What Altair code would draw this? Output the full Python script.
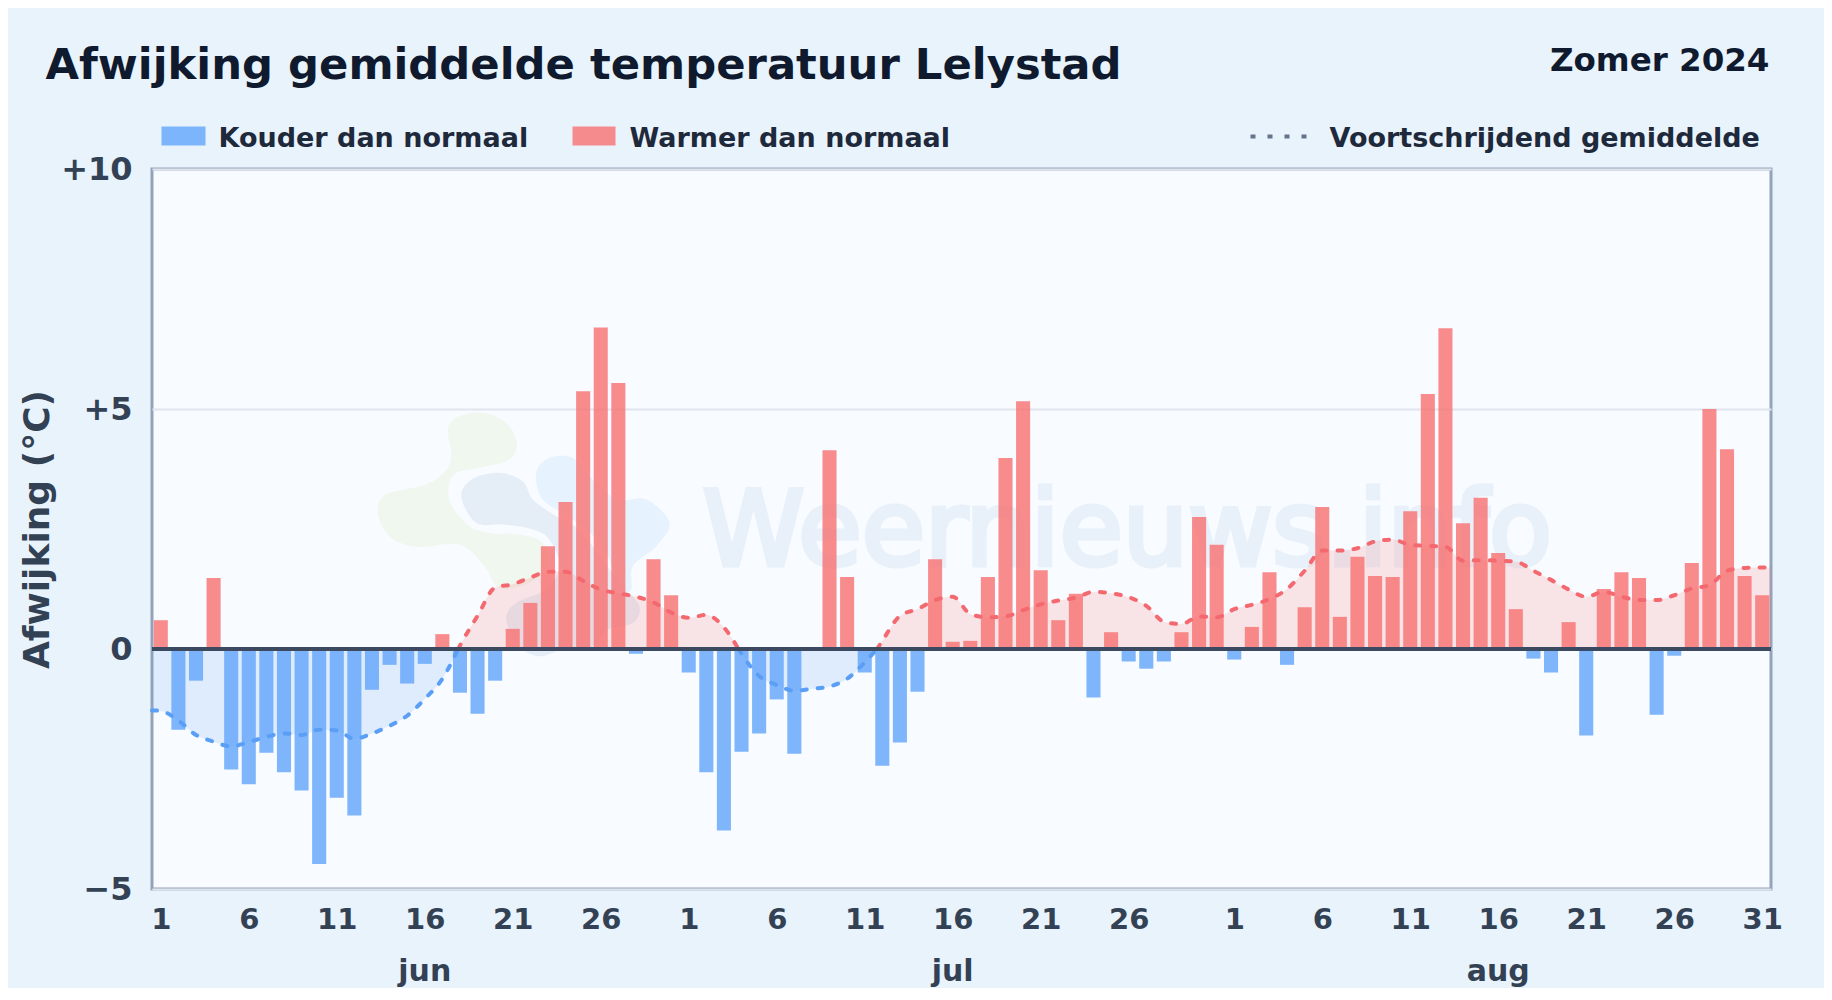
import altair as alt
import pandas as pd

# Daily anomaly, 1 June .. 31 August 2024
jun_values = [0.60,-1.68,-0.66,1.48,-2.51,-2.82,-2.16,-2.57,-2.95,-4.48,-3.10,-3.47,-0.85,-0.33,-0.72,-0.31,0.31,-0.91,-1.35,-0.66,0.42,0.96,2.14,3.06,5.37,6.70,5.54,-0.10,1.87,1.12]
jul_values = [-0.49,-2.57,-3.78,-2.14,-1.76,-1.05,-2.18,0,4.14,1.50,-0.49,-2.43,-1.95,-0.89,1.87,0.15,0.17,1.50,3.98,5.16,1.64,0.60,1.15,-1.01,0.35,-0.26,-0.41,-0.26,0.35,2.75,2.17]
aug_values = [-0.22,0.46,1.60,-0.33,0.87,2.96,0.67,1.92,1.52,1.50,2.87,5.31,6.68,2.62,3.15,2.00,0.83,-0.20,-0.49,0.56,-1.80,1.25,1.60,1.48,-1.37,-0.14,1.79,5.00,4.16,1.52,1.12]

# Moving average, read at each day; first and last are at the plot edges
avg_start = -1.28
avg_jun = [-1.29,-1.49,-1.79,-1.93,-2.03,-1.94,-1.83,-1.76,-1.79,-1.68,-1.70,-1.87,-1.76,-1.60,-1.39,-1.04,-0.62,0.07,0.69,1.28,1.35,1.49,1.61,1.61,1.42,1.24,1.16,1.09,0.97,0.76]
avg_jul = [0.65,0.71,0.45,-0.10,-0.56,-0.75,-0.87,-0.83,-0.78,-0.62,-0.28,0.17,0.69,0.83,1.02,1.09,0.73,0.66,0.68,0.81,0.93,1.01,1.07,1.19,1.16,1.08,0.90,0.57,0.52,0.68,0.66]
avg_aug = [0.83,0.92,1.04,1.25,1.63,2.05,2.05,2.10,2.24,2.28,2.17,2.15,2.13,1.84,1.85,1.84,1.82,1.63,1.44,1.24,1.09,1.19,1.09,1.02,1.02,1.12,1.26,1.33,1.63,1.69,1.70]
avg_end = 1.70
zero_crossings = [16.9, 32.83, 40.7]

tick_days = [0,5,10,15,20,25,30,35,40,45,50,55,61,66,71,76,81,86,91]
tick_labels = ["1","6","11","16","21","26","1","6","11","16","21","26","1","6","11","16","21","26","31"]
month_days = [15,45,76]
month_labels = ["jun","jul","aug"]
y_ticks = [-5,0,5,10]

BG = "#e8f3fc"
PANEL = "#f8fbff"
BLUE = "#60a5fa"
RED = "#f87171"
FONT = "DejaVu Sans"

values = jun_values + jul_values + aug_values
assert len(values) == 92
bars = pd.DataFrame({
    "start": [i - 0.4 for i in range(92)],
    "end": [i + 0.4 for i in range(92)],
    "value": values,
    "zero": 0.0,
    "sign": ["warm" if v >= 0 else "cold" for v in values],
})

avg_all = [avg_start] + avg_jun + avg_jul + avg_aug + [avg_end]
avg_x = [-0.5] + list(range(92)) + [91.5]
assert len(avg_all) == len(avg_x)
edges = [-0.5] + zero_crossings + [91.5]
rows = []
for s in range(len(edges) - 1):
    a, b = edges[s], edges[s + 1]
    sign = "cold" if s % 2 == 0 else "warm"
    if s > 0:
        rows.append((a, 0.0, s, sign))
    for d, v in zip(avg_x, avg_all):
        if a <= d <= b:
            rows.append((d, v, s, sign))
    if s < len(edges) - 2:
        rows.append((b, 0.0, s, sign))
avg = pd.DataFrame(rows, columns=["day", "value", "seg", "sign"])
avg["zero"] = 0.0

x_scale = alt.Scale(domain=[-0.5, 91.5], nice=False, zero=False)
y_scale = alt.Scale(domain=[-5, 10], nice=False)
color_scale = alt.Scale(domain=["cold", "warm"], range=[BLUE, RED])
line_scale = alt.Scale(domain=["cold", "warm"], range=["#5a9ff5", "#f4696f"])

label_map = ",".join(f"'{d}':'{l}'" for d, l in zip(tick_days, tick_labels))
x_axis = alt.Axis(values=tick_days, labelExpr="{" + label_map + "}[datum.value]", title=None,
                  grid=False, ticks=False, domain=False, labelFont=FONT, labelFontWeight="bold",
                  labelFontSize=29, labelColor="#334155", labelPadding=16, labelOverlap=False, labelFlush=False)
y_axis = alt.Axis(values=y_ticks, labelExpr="datum.value > 0 ? '+' + datum.value : datum.value < 0 ? '\u2212' + abs(datum.value) : '0'",
                  title="Afwijking (\u00b0C)", titleFont=FONT, titleFontWeight="bold", titleFontSize=36,
                  titleColor="#334155", titleX=-96, titlePadding=0,
                  grid=True, gridColor="#dfe6ee", gridWidth=2, ticks=False, domain=False,
                  labelFont=FONT, labelFontWeight="bold", labelFontSize=32, labelColor="#334155", labelPadding=20)


def X(field):
    return alt.X(field, scale=x_scale, axis=x_axis)


def Y(field):
    return alt.Y(field, scale=y_scale, axis=y_axis)


def smooth(points):
    n = len(points)
    d = f"M{points[0][0]:.1f},{points[0][1]:.1f}"
    for i in range(n):
        p0, p1, p2, p3 = points[i - 1], points[i], points[(i + 1) % n], points[(i + 2) % n]
        c1 = (p1[0] + (p2[0] - p0[0]) / 6, p1[1] + (p2[1] - p0[1]) / 6)
        c2 = (p2[0] - (p3[0] - p1[0]) / 6, p2[1] - (p3[1] - p1[1]) / 6)
        d += f"C{c1[0]:.1f},{c1[1]:.1f},{c2[0]:.1f},{c2[1]:.1f},{p2[0]:.1f},{p2[1]:.1f}"
    return d + "Z"


def blob(zoom_pts, color, opacity):
    pts = [(p[0] / 3, p[1] / 3) for p in zoom_pts]
    return alt.Chart(pd.DataFrame({"a": [0]})).mark_point(
        shape=smooth(pts), size=4, filled=True, fill=color, opacity=opacity, strokeWidth=0
    ).encode(x=alt.value(360 - 152.5), y=alt.value(390 - 169.5))


green = [(265,120),(295,82),(370,70),(440,100),(472,160),(450,210),(360,235),(290,250),(268,290),(275,345),(330,410),(400,432),(480,435),(550,460),(565,530),(510,580),(420,595),(375,530),(300,465),(170,472),(90,440),(55,370),(80,315),(200,285),(262,240),(275,190)]
greyblue = [(305,320),(340,268),(420,250),(490,275),(520,330),(590,380),(660,420),(720,500),(790,590),(840,650),(820,700),(745,720),(700,770),(610,780),(540,800),(480,770),(440,690),(470,640),(560,600),(600,530),(570,450),(520,420),(430,405),(350,400)]
lightblue = [(530,250),(570,205),(640,205),(690,260),(770,330),(860,330),(930,400),(890,470),(820,530),(815,600),(780,590),(730,470),(640,390),(550,330)]

watermark = (
    blob(green, "#eef6e8", 0.75)
    + blob(lightblue, "#e3f1fd", 0.9)
    + blob(greyblue, "#e4edf7", 0.95)
    + alt.Chart(pd.DataFrame({"t": ["Weernieuws.info"]})).mark_text(
        font=FONT, fontSize=103, fontWeight="normal", align="left", baseline="alphabetic",
        color="#e8f1f9", stroke="#e8f1f9", strokeWidth=5
    ).encode(text="t:N", x=alt.value(703 - 152.5), y=alt.value(565 - 169.5))
)

base_grid = alt.Chart(pd.DataFrame({"v": y_ticks})).mark_rule(opacity=0).encode(
    x=X("x0:Q"),
    y=Y("v:Q"),
).transform_calculate(x0="0")

area = alt.Chart(avg).mark_area(interpolate="monotone", opacity=0.17).encode(
    x=X("day:Q"),
    y=Y("value:Q"),
    y2="zero:Q",
    detail="seg:N",
    color=alt.Color("sign:N", scale=color_scale, legend=None),
)
bar = alt.Chart(bars).mark_rect(opacity=0.8).encode(
    x=X("start:Q"),
    x2="end:Q",
    y=Y("value:Q"),
    y2="zero:Q",
    color=alt.Color("sign:N", scale=color_scale, legend=None),
)
line = alt.Chart(avg).mark_line(interpolate="monotone", strokeWidth=4, strokeDash=[5, 11], strokeCap="round").encode(
    x=X("day:Q"),
    y=Y("value:Q"),
    detail="seg:N",
    color=alt.Color("sign:N", scale=line_scale, legend=None),
)
zero_line = alt.Chart(pd.DataFrame({"v": [0]})).mark_rule(color="#3b4a60", strokeWidth=4).encode(
    y=Y("v:Q")
)
months = alt.Chart(pd.DataFrame({"d": month_days, "m": month_labels})).mark_text(
    font=FONT, fontWeight="bold", fontSize=30, color="#334155", baseline="alphabetic", align="center"
).encode(x=X("d:Q"), text="m:N", y=alt.value(981 - 169.5))


def label(txt, px, py, size, color, align="left", weight="bold"):
    return alt.Chart(pd.DataFrame({"t": [txt]})).mark_text(
        font=FONT, fontSize=size, fontWeight=weight, color=color, align=align, baseline="alphabetic"
    ).encode(text="t:N", x=alt.value(px - 152.5), y=alt.value(py - 169.5))


def swatch(x0, x1, color):
    return alt.Chart(pd.DataFrame({"a": [0]})).mark_rect(color=color, opacity=0.8).encode(
        x=alt.value(x0 - 152.5), x2=alt.value(x1 - 152.5), y=alt.value(127 - 169.5), y2=alt.value(146 - 169.5)
    )


dots = alt.Chart(pd.DataFrame({"a": [0]})).mark_rule(color="#64748b", strokeWidth=4, strokeDash=[5, 12]).encode(
    x=alt.value(1251 - 152.5), x2=alt.value(1309 - 152.5), y=alt.value(137 - 169.5)
)

chart = alt.layer(
    base_grid, watermark, area, bar, line, zero_line, months,
    label("Afwijking gemiddelde temperatuur Lelystad", 46, 79, 43.3, "#0f1a2e"),
    label("Zomer 2024", 1770, 71, 32.5, "#0f1a2e", align="right"),
    swatch(162, 206, BLUE), label("Kouder dan normaal", 219, 147, 27, "#1e293b"),
    swatch(573, 616, RED), label("Warmer dan normaal", 630, 147, 27, "#1e293b"),
    dots, label("Voortschrijdend gemiddelde", 1330, 147, 27, "#1e293b"),
).resolve_scale(color="independent").properties(
    width=1619, height=720,
    autosize=alt.AutoSizeParams(type="none"),
    padding={"left": 144, "top": 161, "right": 53, "bottom": 99},
    background=BG,
).configure_view(fill=PANEL, stroke="#94a3b8", strokeWidth=3)

chart.save("out.html", embed_options={"renderer": "svg", "actions": False})
